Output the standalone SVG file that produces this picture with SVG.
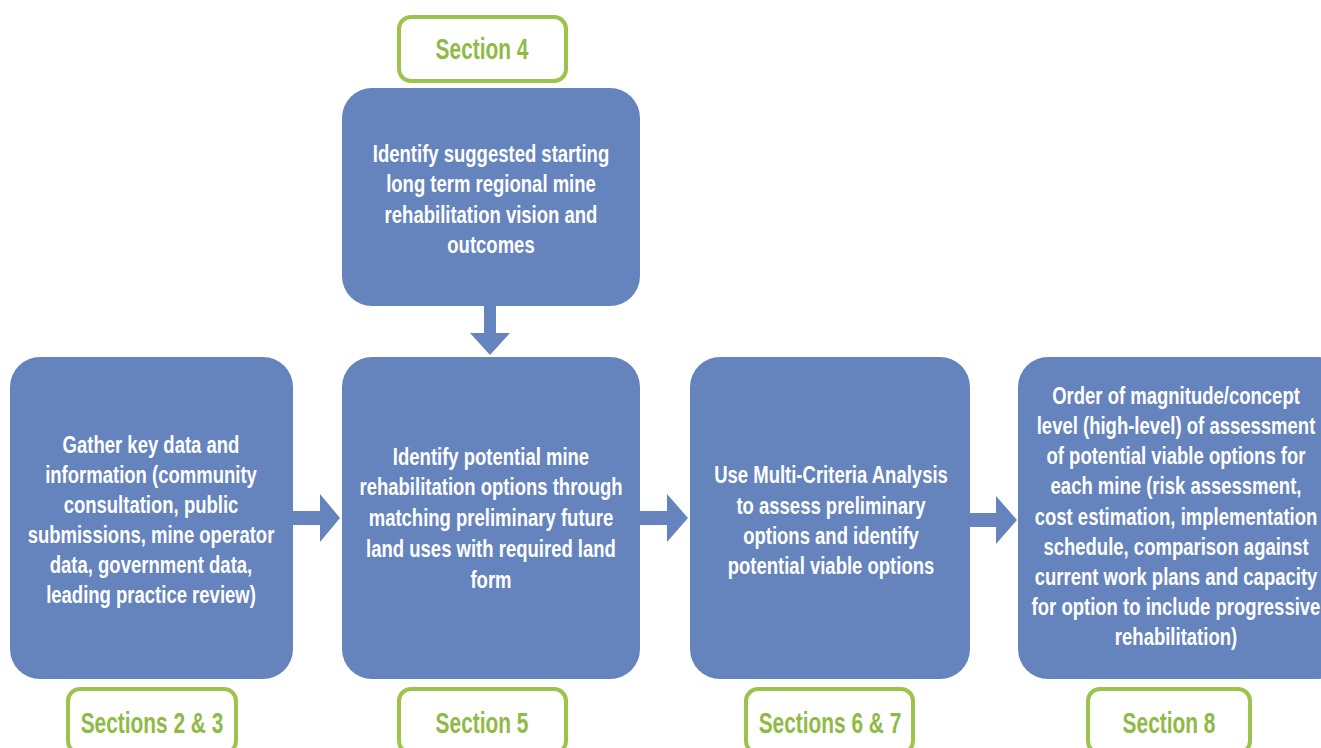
<svg xmlns="http://www.w3.org/2000/svg" width="1321" height="748" viewBox="0 0 1321 748">
<style>
.box{fill:#6584bd;}
.sec{fill:#ffffff;stroke:#9cc44c;stroke-width:4;}
.t{font-family:"Liberation Sans",Arial,sans-serif;font-weight:bold;font-size:23px;fill:#ffffff;text-anchor:middle;}
.g{font-family:"Liberation Sans",Arial,sans-serif;font-weight:bold;font-size:29px;fill:#8fba45;text-anchor:middle;}
.arr{fill:#6584bd;}
</style>
<rect width="1321" height="748" fill="#ffffff"/>
<g id="sec4"><rect class="sec" x="399" y="17" width="167" height="64" rx="12"/><text class="g" transform="translate(482 0) scale(0.72 1)" x="0" y="59">Section 4</text></g>
<g id="vision"><rect class="box" x="342" y="88" width="298" height="218" rx="30"/>
<text class="t" transform="translate(491 0) scale(0.805 1)"><tspan x="0" y="162">Identify suggested starting</tspan><tspan x="0" y="192">long term regional mine</tspan><tspan x="0" y="223">rehabilitation vision and</tspan><tspan x="0" y="253">outcomes</tspan></text></g>
<g id="gather"><rect class="box" x="10" y="357" width="283" height="322" rx="30"/>
<text class="t" transform="translate(151 0) scale(0.805 1)"><tspan x="0" y="453">Gather key data and</tspan><tspan x="0" y="483">information (community</tspan><tspan x="0" y="513">consultation, public</tspan><tspan x="0" y="543">submissions, mine operator</tspan><tspan x="0" y="573">data, government data,</tspan><tspan x="0" y="603">leading practice review)</tspan></text></g>
<g id="identify"><rect class="box" x="342" y="357" width="298" height="322" rx="30"/>
<text class="t" transform="translate(491 0) scale(0.805 1)"><tspan x="0" y="465">Identify potential mine</tspan><tspan x="0" y="495">rehabilitation options through</tspan><tspan x="0" y="526">matching preliminary future</tspan><tspan x="0" y="557">land uses with required land</tspan><tspan x="0" y="588">form</tspan></text></g>
<g id="mca"><rect class="box" x="690" y="357" width="280" height="322" rx="30"/>
<text class="t" transform="translate(831 0) scale(0.805 1)"><tspan x="0" y="483">Use Multi-Criteria Analysis</tspan><tspan x="0" y="514">to assess preliminary</tspan><tspan x="0" y="544">options and identify</tspan><tspan x="0" y="574">potential viable options</tspan></text></g>
<g id="order"><rect class="box" x="1018" y="357" width="330" height="322" rx="30"/>
<text class="t" transform="translate(1176 0) scale(0.805 1)"><tspan x="0" y="404">Order of magnitude/concept</tspan><tspan x="0" y="434">level (high-level) of assessment</tspan><tspan x="0" y="464">of potential viable options for</tspan><tspan x="0" y="494">each mine (risk assessment,</tspan><tspan x="0" y="525">cost estimation, implementation</tspan><tspan x="0" y="555">schedule, comparison against</tspan><tspan x="0" y="585">current work plans and capacity</tspan><tspan x="0" y="615">for option to include progressive</tspan><tspan x="0" y="645">rehabilitation)</tspan></text></g>
<g id="sec23"><rect class="sec" x="68" y="689" width="168" height="64" rx="12"/><text class="g" transform="translate(152 0) scale(0.72 1)" x="0" y="733">Sections 2 &amp; 3</text></g>
<g id="sec5"><rect class="sec" x="399" y="689" width="167" height="64" rx="12"/><text class="g" transform="translate(482 0) scale(0.72 1)" x="0" y="733">Section 5</text></g>
<g id="sec67"><rect class="sec" x="746" y="689" width="167" height="64" rx="12"/><text class="g" transform="translate(830 0) scale(0.72 1)" x="0" y="733">Sections 6 &amp; 7</text></g>
<g id="sec8"><rect class="sec" x="1088" y="689" width="162" height="64" rx="12"/><text class="g" transform="translate(1169 0) scale(0.72 1)" x="0" y="733">Section 8</text></g>
<g id="connectors">
<path class="arr" d="M484,306 H496 V333 H510 L490,355 L470,333 H484 Z"/>
<path class="arr" d="M293,511 H320 V494 L340,518 L320,542 V525 H293 Z"/>
<path class="arr" d="M640,511 H667 V494 L688,518 L667,542 V525 H640 Z"/>
<path class="arr" d="M970,513 H996 V496 L1017,520 L996,544 V527 H970 Z"/>
</g>
</svg>
